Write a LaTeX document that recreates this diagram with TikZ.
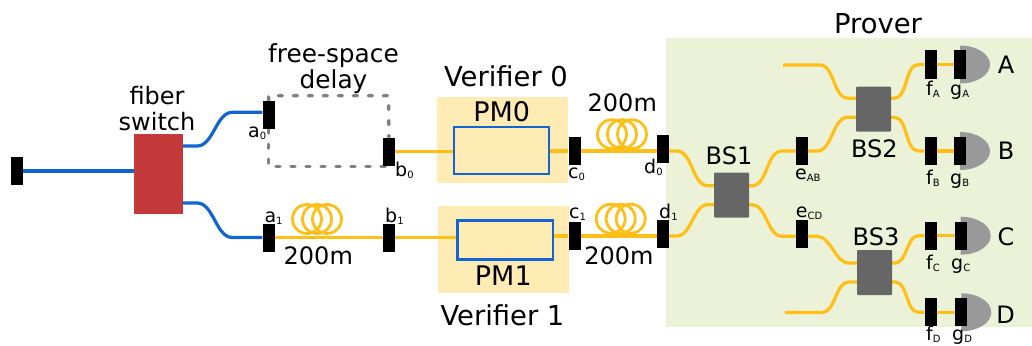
\documentclass[tikz,border=0pt]{standalone}
\usepackage{fontspec}
\setmainfont{DejaVu Sans}
\usetikzlibrary{backgrounds}
\definecolor{fiberblue}{HTML}{1065D0}
\definecolor{fiberyellow}{HTML}{FFBF17}
\definecolor{switchred}{HTML}{C43A3A}
\definecolor{verifierbg}{HTML}{FFEBB3}
\definecolor{proverbg}{HTML}{ECF2D8}
\definecolor{bsgray}{HTML}{666666}
\definecolor{detgray}{HTML}{999999}
\newcommand{\lbl}[2]{#1\raisebox{-2pt}{\fontsize{10}{10}\selectfont #2}}
\begin{document}
\begin{tikzpicture}[x=1pt,y=-1pt,
   port/.style={fill=black,minimum width=12pt,minimum height=28pt,inner sep=0pt},
   bs/.style={fill=bsgray,rounded corners=1pt,minimum width=35pt,minimum height=45pt,inner sep=0pt},
   pm/.style={draw=fiberblue,line width=2.3pt,inner sep=0pt},
   verifier/.style={fill=verifierbg,minimum width=131pt,minimum height=86.5pt,inner sep=0pt},
   coil/.style={circle,draw=fiberyellow,line width=2.8pt,minimum size=29pt,inner sep=0pt},
   yfiber/.style={draw=fiberyellow,line width=3.2pt},
   bfiber/.style={draw=fiberblue,line width=3.2pt},
   sbend/.style={out=0,in=180,looseness=0.85},
   delay/.style={draw=gray,line width=3.5pt,line cap=round,dash pattern=on 4pt off 11pt},
   detector/.style={fill=detgray},
   big/.style={font=\fontsize{24}{26}\selectfont,inner sep=0pt,anchor=base},
   head/.style={font=\fontsize{27.4}{28}\selectfont,inner sep=0pt,anchor=base},
   portlabel/.style={font=\fontsize{19}{19}\selectfont,inner sep=0pt,anchor=base west}]
   \useasboundingbox (0,0) rectangle (1032,345);

   \node [port] (in_0) at (17,171) {};
   \node [port] (a_0) at (268.5,115) {};
   \node [port] (b_0) at (389,151.5) {};
   \node [port] (a_1) at (268.5,237.5) {};
   \node [port] (b_1) at (389,237.5) {};
   \node [port] (c_0) at (574.5,151) {};
   \node [port] (c_1) at (574.5,236) {};
   \node [port] (d_0) at (662.7,149) {};
   \node [port] (d_1) at (662.7,234) {};
   \node [port] (e_AB) at (802,151) {};
   \node [port] (e_CD) at (802,234.3) {};
   \node [port] (f_A) at (930.7,64.5) {};
   \node [port] (f_B) at (930.7,151) {};
   \node [port] (f_C) at (930.7,235.7) {};
   \node [port] (f_D) at (930.7,312.3) {};
   \node [port] (g_A) at (960,64.5) {};
   \node [port] (g_B) at (960,151) {};
   \node [port] (g_C) at (960.7,235.7) {};
   \node [port] (g_D) at (961.3,312.3) {};

   \node [fill=switchred,minimum width=49pt,minimum height=80pt,inner sep=0pt] (sw) at (158.5,174) {};
   \node [pm,minimum width=95pt,minimum height=47pt] (pm_0) at (501.5,150.5) {};
   \node [pm,minimum width=95.5pt,minimum height=39pt] (pm_1) at (505.2,240) {};
   \node [bs] (bs_1) at (731.5,195.2) {};
   \node [bs] (bs_2) at (873.5,109.2) {};
   \node [bs] (bs_3) at (874.5,272.5) {};

   \coordinate (delay_top) at (388.5,95.7);
   \coordinate (delay_bot) at (388.5,166.7);
   \coordinate (bs2_in) at (783,65);
   \coordinate (bs3_in) at (785,312.5);

   \begin{scope}[on background layer]
   \node [fill=proverbg,minimum width=366pt,minimum height=289pt,inner sep=0pt] (prover) at (849,182.5) {};
   \node [verifier] (ver_0) at (502.5,140) {};
   \node [verifier] (ver_1) at (503.2,249.5) {};

   \node [coil] (coil_b0) at (307,219) {};
   \node [coil] (coil_b1) at (317,219) {};
   \node [coil] (coil_b2) at (327,219) {};
   \node [coil] (coil_d0) at (612,134.2) {};
   \node [coil] (coil_d1) at (622,134.2) {};
   \node [coil] (coil_d2) at (632,134.2) {};
   \node [coil] (coil_e0) at (610.7,218.7) {};
   \node [coil] (coil_e1) at (620.7,218.7) {};
   \node [coil] (coil_e2) at (630.7,218.7) {};

   \path [delay] (a_0) |- (delay_top) -- (b_0);
   \path [delay] (a_0) |- (delay_bot) -- (b_0);

   \path [bfiber] (in_0) -- ([yshift=3pt]sw.west);
   \path [bfiber] ([yshift=28pt]sw.east) -- ++(14,0) to[sbend] ([xshift=-30pt,yshift=2.7pt]a_0.west) -- ([yshift=2.7pt]a_0.west);
   \path [bfiber] ([yshift=-29pt]sw.east) -- ++(14,0) to[sbend] ([xshift=-30pt]a_1.west) -- (a_1.west);

   \path [yfiber] (a_1) -- (b_1);
   \path [yfiber] (b_0) -- (pm_0.west |- b_0);
   \path [yfiber] (b_1) -- (pm_1.west |- b_1);
   \path [yfiber] (pm_0.east |- c_0) -- (c_0);
   \path [yfiber] (pm_1.east |- c_1) -- (c_1);
   \path [yfiber] (c_0) -- ([yshift=-2pt]d_0.west);
   \path [yfiber] (c_1) -- ([yshift=-2pt]d_1.west);

   \path [yfiber] ([yshift=-2pt]d_0.east) -- ++(8,0) to[sbend] ([xshift=-6pt,yshift=9.5pt]bs_1.west) -- ([yshift=9.5pt]bs_1.west);
   \path [yfiber] ([yshift=-2pt]d_1.east) -- ++(8,0) to[sbend] ([xshift=-6pt,yshift=-9.5pt]bs_1.west) -- ([yshift=-9.5pt]bs_1.west);
   \path [yfiber] ([yshift=9.5pt]bs_1.east) -- ++(3,0) to[sbend] ([xshift=-14pt]e_AB.west) -- (e_AB.west);
   \path [yfiber] ([yshift=-9.5pt]bs_1.east) -- ++(3,0) to[sbend] ([xshift=-14pt,yshift=-2pt]e_CD.west) -- ([yshift=-2pt]e_CD.west);

   \path [yfiber] (bs2_in) -- ++(37,0) to[sbend] ([xshift=-8pt,yshift=11pt]bs_2.west) -- ([yshift=11pt]bs_2.west);
   \path [yfiber] (e_AB.east) -- ++(9,0) to[sbend] ([xshift=-8pt,yshift=-8pt]bs_2.west) -- ([yshift=-8pt]bs_2.west);
   \path [yfiber] ([yshift=-2pt]e_CD.east) -- ++(9,0) to[sbend] ([xshift=-8pt,yshift=9.5pt]bs_3.west) -- ([yshift=9.5pt]bs_3.west);
   \path [yfiber] (bs3_in) -- ++(37,0) to[sbend] ([xshift=-8pt,yshift=-9.5pt]bs_3.west) -- ([yshift=-9.5pt]bs_3.west);

   \path [yfiber] ([yshift=11pt]bs_2.east) -- ++(3,0) to[sbend] ([xshift=-6pt]f_A.west) -- (f_A.west);
   \path [yfiber] ([yshift=-8pt]bs_2.east) -- ++(3,0) to[sbend] ([xshift=-6pt]f_B.west) -- (f_B.west);
   \path [yfiber] ([yshift=9.5pt]bs_3.east) -- ++(3,0) to[sbend] ([xshift=-6pt]f_C.west) -- (f_C.west);
   \path [yfiber] ([yshift=-9.5pt]bs_3.east) -- ++(3,0) to[sbend] ([xshift=-6pt]f_D.west) -- (f_D.west);

   \path [yfiber] (f_A) -- (g_A);
   \path [yfiber] (f_B) -- (g_B);
   \path [yfiber] (f_C) -- (g_C);
   \path [yfiber] (f_D) -- (g_D);

   \fill [detector] ([yshift=19pt]g_A.center) arc[start angle=90,end angle=-90,x radius=30pt,y radius=19pt] -- cycle;
   \fill [detector] ([yshift=19pt]g_B.center) arc[start angle=90,end angle=-90,x radius=30pt,y radius=19pt] -- cycle;
   \fill [detector] ([yshift=19pt]g_C.center) arc[start angle=90,end angle=-90,x radius=30pt,y radius=19pt] -- cycle;
   \fill [detector] ([yshift=19pt]g_D.center) arc[start angle=90,end angle=-90,x radius=30pt,y radius=19pt] -- cycle;
   \end{scope}

   \node [big,align=center,anchor=south] (switch_txt) at (157,131) {fiber\\switch};
   \node [big,font=\fontsize{24.8}{26}\selectfont,align=center,anchor=south] (delay_txt) at (333.5,94) {free-space\\delay};
   \node [head] (ver0_txt) at (506,86) {Verifier 0};
   \node [head] (ver1_txt) at (502.5,325) {Verifier 1};
   \node [head] (prover_txt) at (878,33.3) {Prover};
   \node [big,font=\fontsize{27}{28}\selectfont] (pm0_txt) at (501.7,121.7) {PM0};
   \node [big,font=\fontsize{27}{28}\selectfont] (pm1_txt) at (503.3,285.7) {PM1};
   \node [big] (len_b) at (318.3,264.3) {200m};
   \node [big] (len_d) at (622.3,111.7) {200m};
   \node [big] (len_e) at (619,264) {200m};
   \node [big] (bs1_txt) at (729,164) {BS1};
   \node [big] (bs2_txt) at (874.3,157.7) {BS2};
   \node [big] (bs3_txt) at (876,245) {BS3};
   \node [big] (det_A) at (1006,73.3) {A};
   \node [big] (det_B) at (1006,159) {B};
   \node [big] (det_C) at (1006,245.7) {C};
   \node [big] (det_D) at (1005.5,323) {D};

   \node [portlabel] (la_0) at (248,137) {\lbl{a}{0}};
   \node [portlabel] (lb_0) at (395,176.7) {\lbl{b}{0}};
   \node [portlabel] (la_1) at (264.3,222.7) {\lbl{a}{1}};
   \node [portlabel] (lb_1) at (385,222.7) {\lbl{b}{1}};
   \node [portlabel] (lc_0) at (568,178.3) {\lbl{c}{0}};
   \node [portlabel] (lc_1) at (569,218.3) {\lbl{c}{1}};
   \node [portlabel] (ld_0) at (644,173.3) {\lbl{d}{0}};
   \node [portlabel] (ld_1) at (659,218.3) {\lbl{d}{1}};
   \node [portlabel] (le_AB) at (795,179) {\lbl{e}{AB}};
   \node [portlabel] (le_CD) at (795.7,217.3) {\lbl{e}{CD}};
   \node [portlabel] (lf_A) at (926,95.7) {\lbl{f}{A}};
   \node [portlabel] (lf_B) at (926,184) {\lbl{f}{B}};
   \node [portlabel] (lf_C) at (926,269) {\lbl{f}{C}};
   \node [portlabel] (lf_D) at (926,340) {\lbl{f}{D}};
   \node [portlabel] (lg_A) at (950,95.7) {\lbl{g}{A}};
   \node [portlabel] (lg_B) at (950,184) {\lbl{g}{B}};
   \node [portlabel] (lg_C) at (951,269) {\lbl{g}{C}};
   \node [portlabel] (lg_D) at (952,340) {\lbl{g}{D}};
\end{tikzpicture}
\end{document}
